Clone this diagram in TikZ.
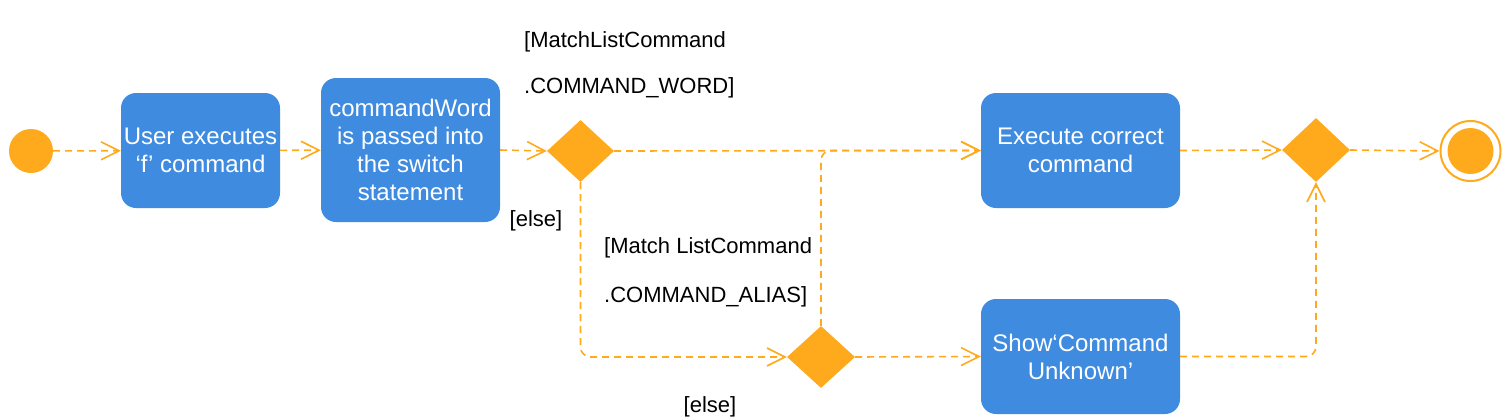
\documentclass[tikz,border=0pt]{standalone}
\usepackage{fontspec}
\setmainfont{Liberation Sans}
\usetikzlibrary{shapes.geometric,arrows.meta}
\definecolor{boxblue}{HTML}{3F8BE0}
\definecolor{flow}{HTML}{FFAA1D}
\begin{document}
\begin{tikzpicture}[x=1pt,y=-1pt,
  act/.style={rectangle, rounded corners=15pt, fill=boxblue, text=white, align=center, inner sep=0pt,
    font=\fontsize{24}{28}\selectfont},
  dec/.style={diamond, fill=flow, inner sep=0pt, minimum width=67pt, minimum height=62pt},
  guard/.style={inner sep=0pt, align=left, anchor=west, text=black},
  flowline/.style={draw=flow, line width=1.6pt, dash pattern=on 7pt off 5pt, rounded corners=10pt,
    -{Straight Barb[length=18pt,width=18pt,line width=1.6pt]}}
]
\useasboundingbox (0,0) rectangle (1502,418);
\node[circle, fill=flow, minimum size=44pt, inner sep=0pt] (start) at (31,151) {};
\node[act, minimum width=159pt, minimum height=115pt] (b1) at (200.5,150.5) {User executes\\‘f’ command};
\node[act, minimum width=179pt, minimum height=144pt] (b2) at (410.5,150) {commandWord\\is passed into\\the switch\\statement};
\node[dec] (d1) at (580.5,151) {};
\node[act, minimum width=199pt, minimum height=115pt] (b3) at (1080.5,150.5) {Execute correct\\command};
\node[dec, minimum width=68pt, minimum height=64pt] (d2) at (1316,150) {};
\node[circle, draw=flow, line width=2pt, minimum size=60pt, inner sep=0pt] (end) at (1470.5,151) {};
\node[circle, fill=flow, minimum size=46pt, inner sep=0pt] (endin) at (1470.5,151) {};
\node[dec, minimum width=68pt] (d3) at (821,357) {};
\node[act, minimum width=199pt, minimum height=115pt] (b4) at (1080.5,356.5) {Show‘Command\\Unknown’};

\node[guard, font=\fontsize{22}{46}\selectfont] (g1) at (524,65) {[MatchListCommand\\.COMMAND\_WORD]};
\node[guard, font=\fontsize{22}{26}\selectfont, anchor=center] (g2) at (536,221) {[else]};
\node[guard, font=\fontsize{22}{49}\selectfont] (g3) at (604,272.5) {[Match ListCommand\\.COMMAND\_ALIAS]};
\node[guard, font=\fontsize{22}{26}\selectfont, anchor=center] (g4) at (710,407) {[else]};

\draw[flowline] (start) -- (b1);
\draw[flowline] (b1) -- (b2);
\draw[flowline] (b2.east) -- (d1.west);
\draw[flowline] (d1.east) -- (b3.west);
\draw[flowline] (d1.south) |- (d3.west);
\draw[flowline] (d3.north) |- (b3.west);
\draw[flowline] (d3.east) -- (b4.west);
\draw[flowline] (b3.east) -- (d2.west);
\draw[flowline] (b4.east) -| (d2.south);
\draw[flowline] (d2.east) -- (end.west);
\end{tikzpicture}
\end{document}
